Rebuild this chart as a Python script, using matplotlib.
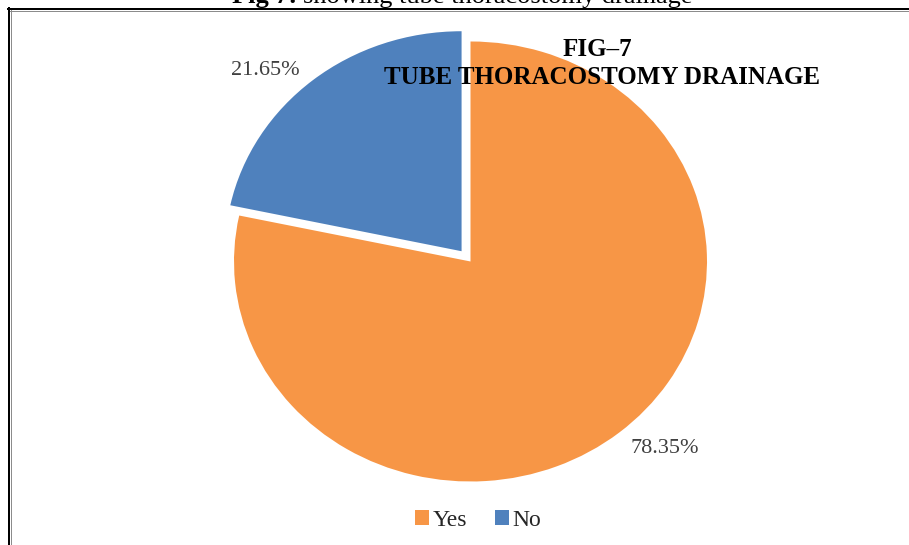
import matplotlib
matplotlib.use("Agg")
import matplotlib.pyplot as plt
from matplotlib.lines import Line2D
from matplotlib.patches import Patch

# Data
categories = ["Yes", "No"]
percentages = [78.35, 21.65]
pct_labels = ["78.35%", "21.65%"]
colors = ["#F79646", "#4F81BD"]

W, H = 909, 545
plt.rcParams["font.family"] = ["Liberation Serif", "DejaVu Serif"]

fig = plt.figure(figsize=(W / 100, H / 100), dpi=100)

# pie axes, slightly wider than tall like the reference (stretched picture)
ax = fig.add_axes([0.2054, 0.0358, 0.6244, 0.9688])
wedges, _ = ax.pie(
    percentages,
    colors=colors,
    startangle=90,
    counterclock=False,
    explode=[0, 0.06],
    wedgeprops=dict(linewidth=0),
)
ax.set_aspect("auto")
ax.set_xlim(-1.2, 1.2)
ax.set_ylim(-1.2, 1.2)
ax.axis("off")

# percentage labels (Excel "best fit" positions outside the slices)
label_pos = [(0.822, -0.848), (-0.869, 0.870)]
for (x, y), txt in zip(label_pos, pct_labels):
    ax.text(x, y, txt, fontsize=16, color="#404040", ha="center", va="center")

# chart title over the pie
fig.text(597 / W, 1 - 50 / H, "FIG\u20137", fontsize=18, fontweight="bold",
         ha="center", va="center", zorder=10)
fig.text(602 / W, 1 - 77 / H, "TUBE THORACOSTOMY DRAINAGE", fontsize=18,
         fontweight="bold", ha="center", va="center", zorder=10)

# caption at the very top (cut off by the picture edge, as in the reference)
cap1 = fig.text(232 / W, 1 - 3 / H, "Fig 7:", fontsize=19, fontweight="bold",
                ha="left", va="baseline")
fig.canvas.draw()
bb = cap1.get_window_extent()
fig.text((bb.x1 + 6) / W, 1 - 3 / H, "showing tube thoracostomy drainage",
         fontsize=19, ha="left", va="baseline")

# frame lines (top and left, black with grey shadow inside)
fig.add_artist(Line2D([8 / W, 1], [1 - 9 / H, 1 - 9 / H], color="black",
                      linewidth=1.44, transform=fig.transFigure))
fig.add_artist(Line2D([10 / W, 1], [1 - 10.5 / H, 1 - 10.5 / H], color="#8c8c8c",
                      linewidth=0.72, transform=fig.transFigure))
fig.add_artist(Line2D([9 / W, 9 / W], [0, 1 - 8 / H], color="black",
                      linewidth=1.44, transform=fig.transFigure))
fig.add_artist(Line2D([10.5 / W, 10.5 / W], [0, 1 - 10 / H], color="#8c8c8c",
                      linewidth=0.72, transform=fig.transFigure))

# legend
handles = [Patch(facecolor=c, edgecolor="none") for c in colors]
fig.legend(handles, categories, loc="center", bbox_to_anchor=(478 / W, 1 - 520 / H),
           ncol=2, frameon=False, fontsize=17, handlelength=0.6, handleheight=0.6,
           handletextpad=0.15, columnspacing=1.2, labelcolor="#262626")

fig.savefig("out.png", dpi=100)
